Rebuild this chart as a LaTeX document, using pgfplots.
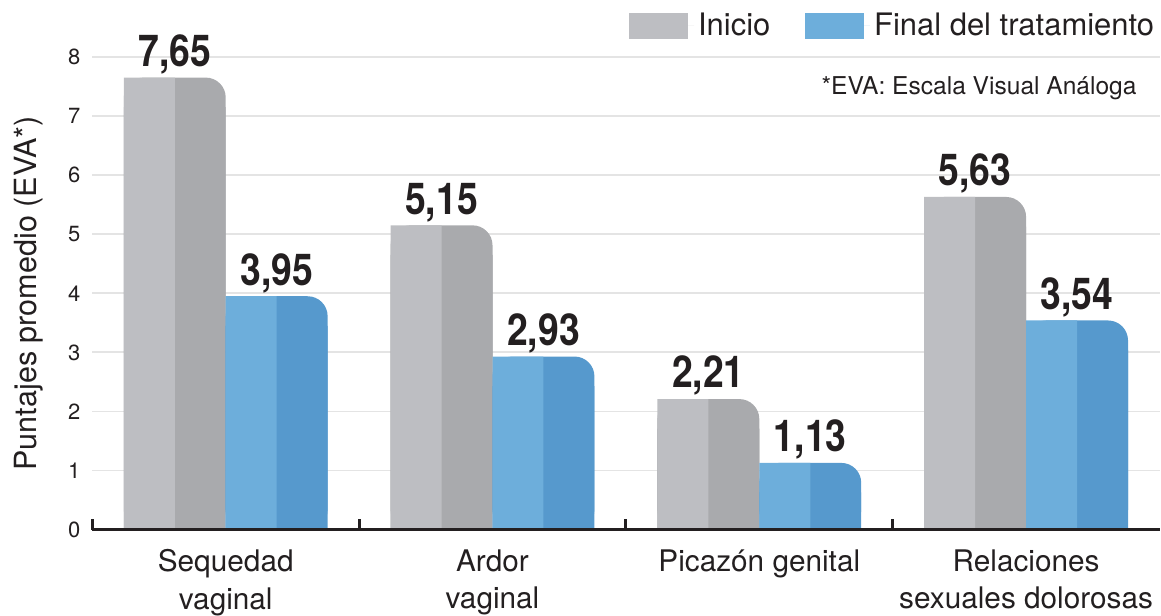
\documentclass[border=0pt]{standalone}
\usepackage{pgfplots}
\pgfplotsset{compat=1.18}
\usepackage{pgfplotstable}
\usepackage{graphicx}
\usepackage{fontspec}
\setmainfont{TeX Gyre Heros}
\definecolor{grayL}{HTML}{BDBEC2}
\definecolor{grayD}{HTML}{A9AAAD}
\definecolor{blueL}{HTML}{6DAEDB}
\definecolor{blueD}{HTML}{5699CD}
\definecolor{txt}{HTML}{231F20}
\definecolor{gridc}{HTML}{E4E4E4}

\pgfplotstableread{
x ini fin
0 7.65 3.95
1 5.15 2.93
2 2.21 1.13
3 5.63 3.54
}\datatable

\begin{document}
\begin{tikzpicture}
\begin{axis}[
  scale only axis,
  width=534.5pt, height=236.8pt,
  xmin=-0.5, xmax=3.5, ymin=0, ymax=8,
  clip=false,
  ybar, bar width=0.382,
  axis x line*=bottom, axis y line*=left,
  x axis line style={draw=none},
  y axis line style={draw=none},
  xtick={0,1,2,3},
  xticklabels={{Sequedad\\[3.3pt]vaginal},{Ardor\\[3.3pt]vaginal},{Picazón genital},{Relaciones\\[3.3pt]sexuales dolorosas}},
  xticklabel style={align=center, font=\fontsize{14.9}{15.5}\selectfont, text=txt, inner sep=0pt, yshift=-9.8pt},
  major tick length=0pt,
  extra x ticks={-0.5,0.5,1.5,2.5},
  extra x tick labels={},
  extra x tick style={major tick length=5.5pt, tick align=inside, major tick style={line width=1.5pt, draw=txt}},
  ytick={0,...,8},
  ymajorgrids, grid style={color=gridc, line width=0.9pt},
  yticklabel style={font=\fontsize{11}{13}\selectfont, text=txt, xshift=-2.5pt},
  /pgf/number format/assume math mode=true,
  ylabel={Puntajes promedio (EVA*)},
  ylabel style={font=\fontsize{15.3}{18}\selectfont, text=txt, at={(axis description cs:0,0.5)}, anchor=center, rotate=0, yshift=32pt, inner ysep=7pt},
  legend style={at={(axis cs:3.496,8.53)}, anchor=east, legend columns=2, draw=none, fill=none, inner sep=0pt, nodes={inner xsep=2pt}, font=\fontsize{15.5}{18}\selectfont, text=txt, /tikz/every even column/.append style={column sep=15.5pt}},
  legend cell align=left,
  legend image code/.code={\fill[#1] (0pt,-6.5pt) rectangle (29.5pt,6.5pt); \path (0pt,0pt) -- (32.5pt,0pt);},
  every node near coord/.append style={font=\fontsize{22}{26}\selectfont\bfseries, text=txt, anchor=base, yshift=5.6pt},
]
% Inicio
\addplot[fill=grayD, draw=none, bar shift=-0.191, rounded corners=10pt, forget plot,
  nodes near coords={\scalebox{0.85}[1]{\pgfmathprintnumber[assume math mode=true,use comma,fixed,fixed zerofill,precision=2]{\pgfplotspointmeta}}}]
  table[x=x,y=ini]{\datatable};
\addplot[fill=grayD, draw=none, bar shift=-0.191, forget plot] table[x=x,y expr=\thisrow{ini}-0.5]{\datatable};
\addplot[fill=grayL, draw=none, bar shift=-0.2865, bar width=0.191] table[x=x,y=ini]{\datatable};
\addlegendentry{Inicio}
% Final
\addplot[fill=blueD, draw=none, bar shift=0.191, rounded corners=10pt, forget plot,
  nodes near coords={\scalebox{0.85}[1]{\pgfmathprintnumber[assume math mode=true,use comma,fixed,fixed zerofill,precision=2]{\pgfplotspointmeta}}}]
  table[x=x,y=fin]{\datatable};
\addplot[fill=blueD, draw=none, bar shift=0.191, forget plot] table[x=x,y expr=\thisrow{fin}-0.5]{\datatable};
\addplot[fill=blueL, draw=none, bar shift=0.0955, bar width=0.191] table[x=x,y=fin]{\datatable};
\addlegendentry{Final del tratamiento}
\draw[txt, line width=1.5pt] (rel axis cs:0,0) -- (rel axis cs:1,0);
\node[anchor=base east, font=\fontsize{12.3}{14}\selectfont, text=txt] at (axis cs:3.44,7.36) {*EVA: Escala Visual Análoga};
\path (rel axis cs:0,1) ++(0pt,28.5pt);
\end{axis}
\end{tikzpicture}
\end{document}
